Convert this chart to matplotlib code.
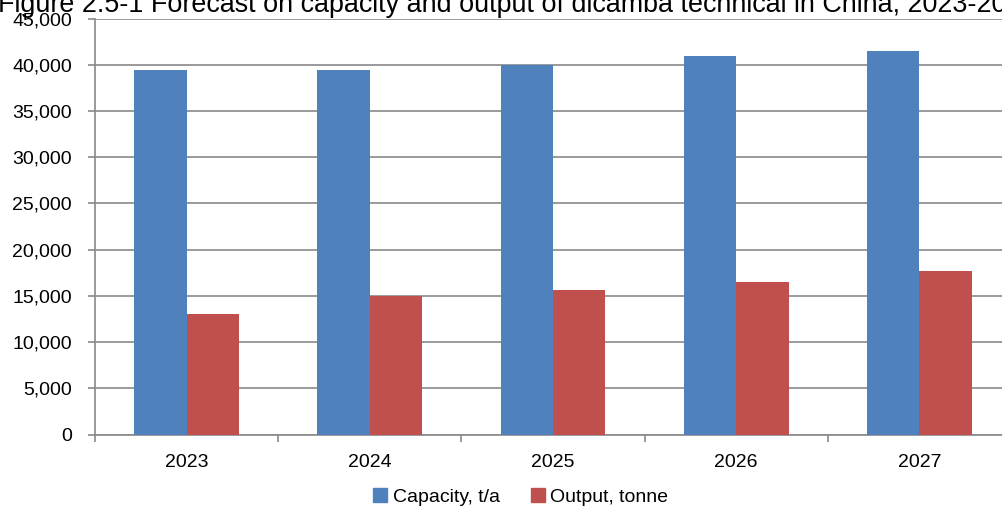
import matplotlib
matplotlib.use("Agg")
import matplotlib.pyplot as plt
from matplotlib.patches import Patch
from matplotlib.ticker import FuncFormatter, MultipleLocator
import numpy as np

plt.rcParams['font.family'] = ['Liberation Sans', 'DejaVu Sans']

years = ["2023", "2024", "2025", "2026", "2027"]
capacity = [39500, 39500, 40000, 41000, 41500]
output = [13000, 15000, 15600, 16500, 17700]
series_names = ["Capacity, t/a", "Output, tonne"]
title = "Figure 2.5-1 Forecast on capacity and output of dicamba technical in China, 2023-2027"

blue = "#4F81BD"
red = "#C0504D"
grey = "#898989"

W, H = 1002, 513
fig = plt.figure(figsize=(W / 100, H / 100), dpi=100)
ax = fig.add_axes([95 / W, 1 - 434.5 / H, (1011 - 95) / W, (434.5 - 18.7) / H])

x = np.arange(len(years))
bw = 0.2865
ax.bar(x - bw / 2, capacity, width=bw, color=blue, zorder=3)
ax.bar(x + bw / 2, output, width=bw, color=red, zorder=3)

ax.set_xlim(-0.5, len(years) - 0.5)
ax.set_ylim(0, 45000)
ax.yaxis.set_major_locator(MultipleLocator(5000))
ax.yaxis.set_major_formatter(FuncFormatter(lambda v, p: f"{int(v):,}"))
ax.grid(axis="y", color=grey, linewidth=1.2, zorder=0)

ax.set_xticks(x)
ax.set_xticklabels(years)
ax.set_xticks(np.arange(len(years) + 1) - 0.5, minor=True)
ax.tick_params(axis="x", which="major", length=0, pad=14, labelsize=14)
ax.tick_params(axis="x", which="minor", length=5, width=1.2, color=grey)
ax.tick_params(axis="y", length=5, width=1.2, color=grey, pad=11.5, labelsize=14)

for s in ["top", "right"]:
    ax.spines[s].set_visible(False)
for s in ["left", "bottom"]:
    ax.spines[s].set_color(grey)
    ax.spines[s].set_linewidth(1.2)

fig.text(-0.002, 1 - 11.5 / H, title, ha="left", va="baseline", fontsize=19.4)

handles = [Patch(color=blue), Patch(color=red)]
fig.legend(handles, series_names, loc="center", bbox_to_anchor=(521 / W, 1 - 497 / H),
           ncol=2, frameon=False, fontsize=14, handlelength=0.7, handleheight=0.7,
           handletextpad=0.3, columnspacing=1.6)

fig.savefig("out.png", dpi=100)
